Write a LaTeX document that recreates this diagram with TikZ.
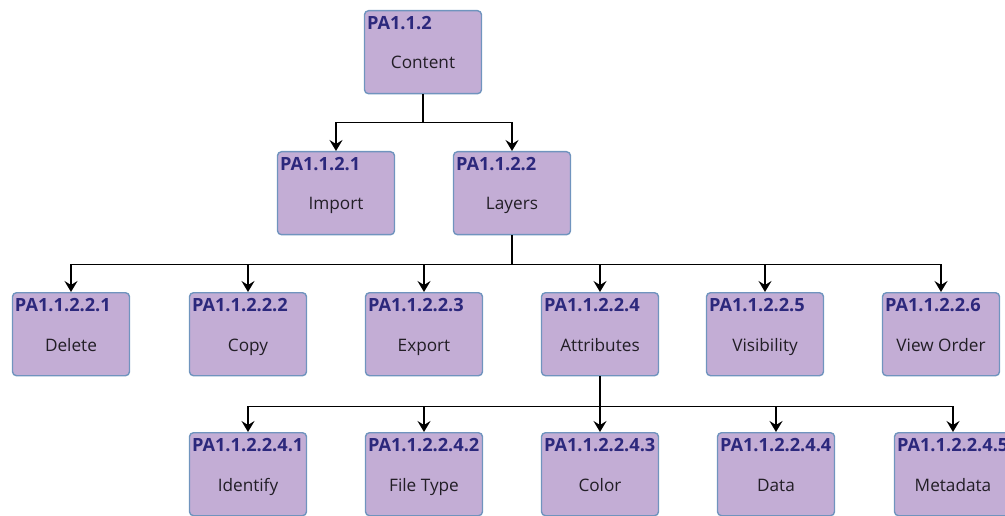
\documentclass[tikz,border=0pt]{standalone}
\usepackage{fontspec}
\setmainfont{Open Sans}
\usetikzlibrary{arrows.meta,calc}
\definecolor{boxfill}{RGB}{195,173,213}
\definecolor{boxline}{RGB}{112,148,190}
\definecolor{idtext}{RGB}{44,40,124}
\definecolor{lbltext}{RGB}{34,30,38}
\tikzset{
  card/.style={draw=boxline, line width=1.4pt, fill=boxfill, rounded corners=4pt,
    minimum width=117pt, minimum height=83pt, inner sep=0pt},
  cardid/.style={anchor=base west, inner sep=0pt, text=idtext,
    font=\fontsize{18.2}{21}\selectfont\bfseries},
  cardlbl/.style={anchor=base, inner sep=0pt, text=lbltext,
    font=\fontsize{17.2}{20}\selectfont},
  link/.style={line width=1.7pt, black, -{Stealth[length=11pt,width=13pt,inset=4pt]}}
}
% one task card: name, centre x, top y, id, label
\newcommand\taskcard[5]{%
  \node[card, anchor=north] (#1) at (#2,#3) {};
  \node[cardid] (#1-id) at ($(#1.north west)+(3,19.5)$) {#4};
  \node[cardlbl] (#1-lbl) at ($(#1.north)+(0,59)$) {#5};
}
\begin{document}
\begin{tikzpicture}[x=1pt,y=-1pt]
\clip (0,0) rectangle (1005,516);
% level 1
\taskcard{content}{423}{10}{PA1.1.2}{Content}
% level 2
\taskcard{import}{336}{151}{PA1.1.2.1}{Import}
\taskcard{layers}{512}{151}{PA1.1.2.2}{Layers}
% level 3
\taskcard{delete}{71}{292}{PA1.1.2.2.1}{Delete}
\taskcard{copy}{248}{292}{PA1.1.2.2.2}{Copy}
\taskcard{export}{424}{292}{PA1.1.2.2.3}{Export}
\taskcard{attributes}{600}{292}{PA1.1.2.2.4}{Attributes}
\taskcard{visibility}{765}{292}{PA1.1.2.2.5}{Visibility}
\taskcard{vieworder}{941}{292}{PA1.1.2.2.6}{View Order}
% level 4
\taskcard{identify}{248}{432}{PA1.1.2.2.4.1}{Identify}
\taskcard{filetype}{424}{432}{PA1.1.2.2.4.2}{File Type}
\taskcard{color}{600}{432}{PA1.1.2.2.4.3}{Color}
\taskcard{data}{776}{432}{PA1.1.2.2.4.4}{Data}
\taskcard{metadata}{953}{432}{PA1.1.2.2.4.5}{Metadata}
% connectors
\foreach \c in {import,layers}
  \draw[link] (content.south) -- ++(0,28) -| (\c.north);
\foreach \c in {delete,copy,export,attributes,visibility,vieworder}
  \draw[link] (layers.south) -- ++(0,29) -| (\c.north);
\foreach \c in {identify,filetype,color,data,metadata}
  \draw[link] (attributes.south) -- ++(0,30) -| (\c.north);
\end{tikzpicture}
\end{document}
